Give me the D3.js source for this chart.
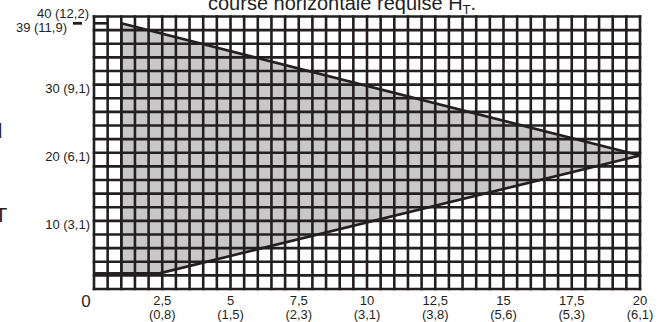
<!DOCTYPE html>
<html>
<head>
<meta charset="utf-8">
<script src="https://cdn.jsdelivr.net/npm/d3@7"></script>
<style>
  body { margin: 0; background: #fff; }
  svg { display: block; font-family: "Liberation Sans", Arial, sans-serif; }
</style>
</head>
<body>
<div id="chart"></div>
<script>
// data
const xTicks = [2.5, 5, 7.5, 10, 12.5, 15, 17.5, 20];
const xTickLabels = ["2,5", "5", "7,5", "10", "12,5", "15", "17,5", "20"];
const xTickSub = ["(0,8)", "(1,5)", "(2,3)", "(3,1)", "(3,8)", "(5,6)", "(5,3)", "(6,1)"];
const yTicks = [10, 20, 30, 39];
const yTickLabels = ["10 (3,1)", "20 (6,1)", "30 (9,1)", "39 (11,9)"];
const yTopTick = 40;
const yTopLabel = "40 (12,2)";

// zone (polygon) corners
const zoneX = [1, 20, 2.4, 1];
const zoneY = [39, 19.6, 2.3, 2.3];

const W = 668, H = 322;
const ink = "#231f20";

const x = d3.scaleLinear().domain([0, 20]).range([94, 640]);
const y = d3.scaleLinear().domain([0, 40]).range([289, 16.5]);

const svg = d3.select("#chart").append("svg")
    .attr("width", W)
    .attr("height", H);

svg.append("rect").attr("width", W).attr("height", H).attr("fill", "#fff");

// gray zone
const pts = zoneX.map(function(d, i){ return [x(d), y(zoneY[i])]; });
svg.append("polygon")
    .attr("points", pts.map(function(p){ return p.join(","); }).join(" "))
    .attr("fill", "#c8c8c8");

// grid
const gx = d3.range(0, 20.001, 0.5);
const gy = d3.range(0, 40.001, 2);
const grid = svg.append("g").attr("stroke", ink).attr("stroke-width", 2.6);
grid.selectAll("line.v").data(gx).join("line")
    .attr("class", "v")
    .attr("x1", function(d){ return x(d); })
    .attr("x2", function(d){ return x(d); })
    .attr("y1", y(40) - 1.3)
    .attr("y2", y(0) + 1.3);
grid.selectAll("line.h").data(gy).join("line")
    .attr("class", "h")
    .attr("x1", x(0) - 1.3)
    .attr("x2", x(20) + 1.3)
    .attr("y1", function(d){ return y(d); })
    .attr("y2", function(d){ return y(d); });

// zone outline
svg.append("polygon")
    .attr("points", pts.map(function(p){ return p.join(","); }).join(" "))
    .attr("fill", "none")
    .attr("stroke", ink)
    .attr("stroke-width", 2.6)
    .attr("stroke-linejoin", "miter");

// little extra lines to the left edge
svg.append("line")
    .attr("x1", x(0)).attr("x2", x(zoneX[3]))
    .attr("y1", y(zoneY[3])).attr("y2", y(zoneY[3]))
    .attr("stroke", ink).attr("stroke-width", 2.6);
svg.append("line")
    .attr("x1", x(0)).attr("x2", x(0.5))
    .attr("y1", y(39)).attr("y2", y(39))
    .attr("stroke", ink).attr("stroke-width", 2.6);

// y labels
svg.append("g").selectAll("text").data(yTicks).join("text")
    .attr("x", function(d){ return d === 39 ? 67 : 90; })
    .attr("y", function(d){ return y(d) + 8.5; })
    .attr("text-anchor", "end")
    .attr("font-size", 13)
    .attr("fill", ink)
    .text(function(d, i){ return yTickLabels[i]; });

svg.append("line")
    .attr("x1", 73).attr("x2", 82)
    .attr("y1", y(39)).attr("y2", y(39))
    .attr("stroke", ink).attr("stroke-width", 2.8);

svg.append("text")
    .attr("x", 89)
    .attr("y", y(yTopTick) + 1.5)
    .attr("text-anchor", "end")
    .attr("font-size", 13)
    .attr("fill", ink)
    .text(yTopLabel);

// x labels
svg.append("text")
    .attr("x", 86).attr("y", 307)
    .attr("text-anchor", "middle")
    .attr("font-size", 17)
    .attr("fill", ink)
    .text("0");

const xl = svg.append("g").attr("text-anchor", "middle").attr("font-size", 13).attr("fill", ink);
xl.selectAll("text.a").data(xTicks).join("text")
    .attr("class", "a")
    .attr("x", function(d){ return x(d); })
    .attr("y", 305)
    .text(function(d, i){ return xTickLabels[i]; });
xl.selectAll("text.b").data(xTicks).join("text")
    .attr("class", "b")
    .attr("x", function(d){ return x(d); })
    .attr("y", 319)
    .text(function(d, i){ return xTickSub[i]; });

// title (cut by the top edge)
const title = svg.append("text")
    .attr("x", 208).attr("y", 10)
    .attr("font-size", 20)
    .attr("fill", ink);
title.append("tspan").text("course horizontale requise H");
title.append("tspan").attr("font-size", 13).attr("dy", 4).text("T");
title.append("tspan").attr("dy", -4).text(".");

// left label fragments (cut by the left edge)
svg.append("text")
    .attr("x", 2.5).attr("y", 138)
    .attr("text-anchor", "end")
    .attr("font-size", 21)
    .attr("fill", ink)
    .text("vertical");
svg.append("text")
    .attr("x", 1).attr("y", 222)
    .attr("text-anchor", "middle")
    .attr("font-size", 21)
    .attr("fill", ink)
    .text("T");
</script>
</body>
</html>
